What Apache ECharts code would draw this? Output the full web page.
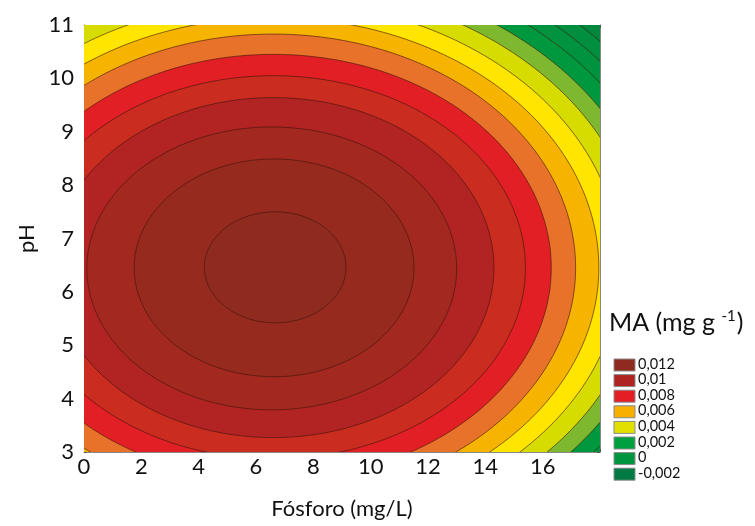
<!DOCTYPE html>
<html><head><meta charset="utf-8">
<script src="https://cdn.jsdelivr.net/npm/echarts@6/dist/echarts.min.js"></script>
<style>html,body{margin:0;padding:0;background:#fff}#c{width:755px;height:526px}</style>
</head><body><div id="c"></div>
<script>
// Contour levels of MA (mg g-1) and the contour ellipses
const levels    = [-0.002,-0.001,0,0.001,0.002,0.003,0.004,0.005,0.006,0.007,0.008,0.009,0.010,0.011,0.012];
const centerX   = [6.6,6.6,6.6,6.6,6.6,6.6,6.6,6.6,6.6,6.6,6.6,6.6,6.55,6.63,6.67];
const centerY   = [6.45,6.45,6.45,6.45,6.45,6.45,6.45,6.45,6.45,6.45,6.45,6.45,6.44,6.45,6.46];
const semiX     = [15.9,15.35,14.76,14.15,13.5,12.85,12.12,11.36,10.55,9.7,8.8,7.7,6.45,4.88,2.47];
const semiYup   = [6.57,6.34,6.1,5.85,5.58,5.31,5.01,4.69,4.38,4.0,3.6,3.19,2.65,2.04,1.04];
const semiYdown = [6.3,6.08,5.86,5.63,5.4,5.16,4.9,4.62,4.33,3.97,3.58,3.18,2.65,2.04,1.04];
const xTicks  = [0,2,4,6,8,10,12,14,16,18];
const legendValues = [0.012,0.01,0.008,0.006,0.004,0.002,0,-0.002];

// styles
const belowColor = '#00843E';
const bandColors = ['#00893E','#008E3F','#00933F','#00983F','#7EB82F','#D6DB00','#FFE500','#F6B300','#E9722A','#E21F25','#CA2C20','#B22323','#A3281F','#962A1E','#8E2A1E'];
const legendColors = ['#8E2A1E','#B02323','#E31E24','#F6B000','#E2E000','#00A040','#00963F','#007A45'];
const lineColor = 'rgba(60,20,10,0.75)';
const FONT = 'Lato';

const chart = echarts.init(document.getElementById('c'), null, {renderer:'canvas'});
const data = levels.map((lv,i)=>[centerX[i],centerY[i],semiX[i],semiYup[i],semiYdown[i],lv]);

function renderItem(params, api){
  const i = params.dataIndex;
  const c = api.coord([api.value(0), api.value(1)]);
  const sUp = api.size([api.value(2), api.value(3)]);
  const sDn = api.size([api.value(2), api.value(4)]);
  const pts = [];
  const N = 240;
  for (let k=0;k<N;k++){
    const t = k/N*2*Math.PI;
    const sn = Math.sin(t);
    const ry = sn >= 0 ? sUp[1] : sDn[1];
    pts.push([c[0]+sUp[0]*Math.cos(t), c[1]-ry*sn]);
  }
  const cs = params.coordSys;
  return {
    type:'polygon',
    shape:{points:pts},
    style:{fill:bandColors[i], stroke:lineColor, lineWidth:0.8},
    clipPath:{type:'rect', shape:{x:cs.x, y:cs.y, width:cs.width, height:cs.height}}
  };
}

const fmt = v => String(v).replace('.', ',');
const graphics = [
  {type:'text', left:609, top:309, style:{
    text:'{a|MA (mg g }{b|-1}{a|)}',
    rich:{a:{fontFamily:FONT,fontSize:25,fill:'#111'}, b:{fontFamily:FONT,fontSize:15,fill:'#111',padding:[0,1,12,0]}}
  }},
  {type:'text', left:572, top:428, style:{text:String(xTicks[xTicks.length-1]), font:'22px '+FONT, fill:'#111'}}
];
legendValues.forEach((v,i)=>{
  const y = 359 + i*15.6;
  graphics.push({type:'rect', shape:{x:614,y:y,width:21,height:12}, style:{fill:legendColors[i], stroke:'#8a8a8a', lineWidth:1}});
  graphics.push({type:'text', left:638, top:y-2.5, style:{text:fmt(v), font:'14.5px '+FONT, fill:'#111'}});
});

chart.setOption({
  animation:false,
  backgroundColor:'#fff',
  grid:{left:84, right:155, top:25, bottom:74, show:true, backgroundColor:belowColor, borderWidth:0},
  xAxis:[{
    type:'value', min:0, max:18, interval:2, position:'bottom',
    name:'Fósforo (mg/L)', nameLocation:'middle', nameGap:46,
    nameTextStyle:{fontFamily:FONT, fontSize:22, color:'#111'},
    axisLine:{show:true, onZero:false, lineStyle:{color:'#888', width:1}},
    axisTick:{show:true, inside:true, length:3, lineStyle:{color:'#555'}},
    minorTick:{show:true, splitNumber:2, length:2, lineStyle:{color:'#555'}},
    axisLabel:{fontFamily:FONT, fontSize:22, color:'#111', margin:4,
      formatter: v => (v === xTicks[xTicks.length-1] ? '' : String(v))},
    splitLine:{show:false}
  },{
    type:'value', min:0, max:18, interval:2, position:'top',
    axisLine:{show:true, onZero:false, lineStyle:{color:'#888', width:1}},
    axisTick:{show:true, inside:true, length:3, lineStyle:{color:'#555'}},
    minorTick:{show:true, splitNumber:2, length:2, lineStyle:{color:'#555'}},
    axisLabel:{show:false}, splitLine:{show:false}
  }],
  yAxis:[{
    type:'value', min:3, max:11, interval:1, position:'left',
    name:'pH', nameLocation:'middle', nameGap:44, nameRotate:90,
    nameTextStyle:{fontFamily:FONT, fontSize:22, color:'#111'},
    axisLine:{show:true, onZero:false, lineStyle:{color:'#888', width:1}},
    axisTick:{show:true, inside:true, length:3, lineStyle:{color:'#555'}},
    minorTick:{show:true, splitNumber:5, length:2, lineStyle:{color:'#555'}},
    axisLabel:{fontFamily:FONT, fontSize:22, color:'#111', margin:10},
    splitLine:{show:false}
  },{
    type:'value', min:3, max:11, interval:1, position:'right',
    axisLine:{show:true, onZero:false, lineStyle:{color:'#888', width:1}},
    axisTick:{show:true, inside:true, length:3, lineStyle:{color:'#555'}},
    minorTick:{show:true, splitNumber:5, length:2, lineStyle:{color:'#555'}},
    axisLabel:{show:false}, splitLine:{show:false}
  }],
  series:[{
    type:'custom', coordinateSystem:'cartesian2d', xAxisIndex:0, yAxisIndex:0,
    renderItem: renderItem, data: data, silent:true, z:2
  }],
  graphic: graphics
});
</script></body></html>
